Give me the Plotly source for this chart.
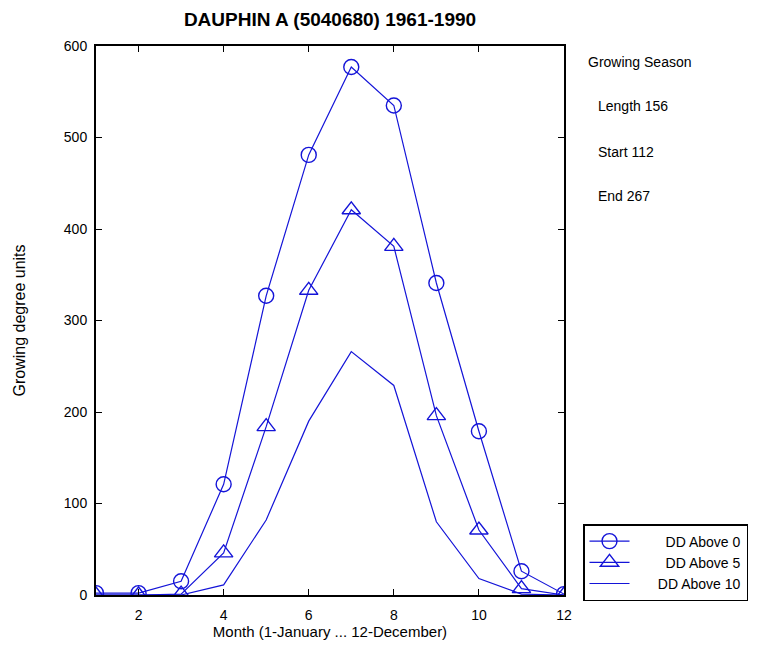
import plotly.graph_objects as go

months = list(range(1, 13))
dd_above_0 = [2, 2, 15, 121, 327, 481, 577, 535, 341, 179, 26, 1]
dd_above_5 = [0, 0, 1, 46, 184, 333, 421, 381, 196, 71, 7, 0]
dd_above_10 = [0, 0, 0, 11, 82, 190, 266, 229, 80, 18, 1, 0]

x_ticks = [2, 4, 6, 8, 10, 12]
y_ticks = [0, 100, 200, 300, 400, 500, 600]

season_lines = ["Growing Season", "Length 156", "Start 112", "End 267"]
legend_names = ["DD Above 0", "DD Above 5", "DD Above 10"]

BLUE = "#1414d8"
FONT = "Liberation Sans Narrow, Arial Narrow, Liberation Sans, sans-serif"
PAD = "&nbsp;" * 6

fig = go.Figure()
fig.add_trace(go.Scatter(
    x=months, y=dd_above_0, name=PAD + "&nbsp;&nbsp;" + legend_names[0], mode="lines+markers",
    line=dict(color=BLUE, width=1.2),
    marker=dict(symbol="circle-open", size=15, color=BLUE, line=dict(width=1.4)),
))
fig.add_trace(go.Scatter(
    x=months, y=dd_above_5, name=PAD + "&nbsp;&nbsp;" + legend_names[1], mode="lines+markers",
    line=dict(color=BLUE, width=1.2),
    marker=dict(symbol="triangle-up-open", size=16, color=BLUE, line=dict(width=1.4)),
))
fig.add_trace(go.Scatter(
    x=months, y=dd_above_10, name=PAD + legend_names[2], mode="lines",
    line=dict(color=BLUE, width=1.2),
))

axis_common = dict(
    showgrid=False, zeroline=False, showline=True, linecolor="black", linewidth=2,
    mirror="ticks", ticks="inside", ticklen=6, tickcolor="black", tickwidth=1,
    tickfont=dict(family=FONT, size=14, color="black"),
)

fig.update_xaxes(
    range=[1, 12], tickvals=x_ticks, ticktext=[str(v) for v in x_ticks],
    ticklabelstandoff=6,
    title=dict(text="Month (1-January ... 12-December)", font=dict(family=FONT, size=15, color="black"), standoff=4),
    **axis_common,
)
fig.update_yaxes(
    range=[0, 600], tickvals=y_ticks, ticktext=[str(v) for v in y_ticks],
    ticklabelstandoff=4,
    title=dict(text="Growing degree units", font=dict(family="Liberation Sans, Arial, sans-serif", size=16, color="black"), standoff=34),
    **axis_common,
)

ann = []
ys = [62, 106, 152, 196]
xs = [586, 596, 596, 596]
for txt, xp, yp in zip(season_lines, xs, ys):
    ann.append(dict(text=txt, xref="paper", yref="paper",
                    x=(xp - 96) / (564 - 96), y=(595 - yp) / (595 - 46),
                    xanchor="left", yanchor="middle", showarrow=False,
                    font=dict(family=FONT, size=14, color="black")))

fig.update_layout(
    width=761, height=650,
    margin=dict(l=96, r=197, t=46, b=55),
    paper_bgcolor="white", plot_bgcolor="white",
    title=dict(text="<b>DAUPHIN A (5040680) 1961-1990</b>", x=(330) / 761, xanchor="center",
               y=1 - 19 / 650, yanchor="middle",
               font=dict(family=FONT, size=19, color="black")),
    legend=dict(x=(583 - 96) / (564 - 96), y=(595 - 524) / (595 - 46), xanchor="left", yanchor="top",
                bordercolor="black", borderwidth=1.5, bgcolor="white",
                font=dict(family=FONT, size=14, color="black"),
                itemwidth=40, tracegroupgap=0),
    annotations=ann,
    showlegend=True,
)

fig.write_html("out.html")
